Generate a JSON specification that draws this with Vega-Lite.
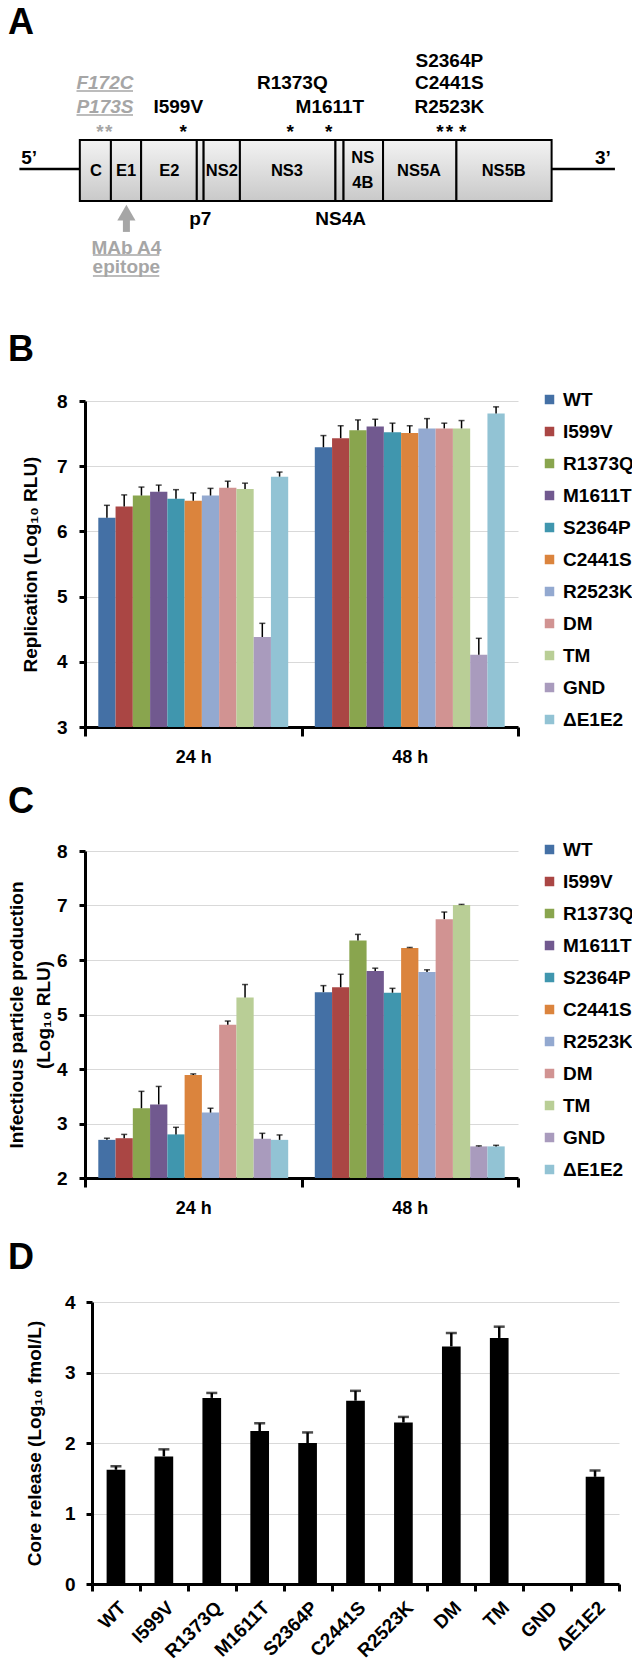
{
"$schema": "https://vega.github.io/schema/vega-lite/v6.json",
"padding": 0,
"background": "white",
"bounds": "flush",
"spacing": 124,
"config": {
  "view": {"stroke": null},
  "font": "Liberation Sans",
  "title": {"font": "Liberation Sans", "fontSize": 36, "fontWeight": "bold", "color": "black", "anchor": "start", "frame": "group", "baseline": "alphabetic", "dx": -77},
  "axis": {"labelFont": "Liberation Sans", "titleFont": "Liberation Sans", "labelFontWeight": "bold", "titleFontWeight": "bold", "labelColor": "black", "titleColor": "black", "labelFontSize": 19, "titleFontSize": 19, "domainColor": "black", "domainWidth": 3, "tickColor": "black", "tickWidth": 3, "gridColor": "#d9d9d9", "gridWidth": 1},
  "legend": {"labelFont": "Liberation Sans", "labelFontWeight": "bold", "labelFontSize": 19, "labelColor": "black", "symbolType": "square", "symbolSize": 90, "symbolStrokeWidth": 0, "rowPadding": 12, "labelOffset": 4, "padding": 0}
},
"resolve": {"scale": {"color": "independent", "x": "independent", "y": "independent"}, "legend": {"color": "independent"}},
"datasets": {
  "utr": [
    {"end_label": "5’", "start": 3.07, "end": 12.63, "labelPos": 4.6},
    {"end_label": "3’", "start": 87.28, "end": 97.3, "labelPos": 95.4}
  ],
  "genes": [
    {"gene": "C", "start": 12.63, "end": 17.55},
    {"gene": "E1", "start": 17.55, "end": 22.33},
    {"gene": "E2", "start": 22.33, "end": 31.14},
    {"gene": "p7", "start": 31.14, "end": 32.22},
    {"gene": "NS2", "start": 32.22, "end": 37.96},
    {"gene": "NS3", "start": 37.96, "end": 53.08},
    {"gene": "NS4A", "start": 53.08, "end": 54.36},
    {"gene": "NS4B", "start": 54.36, "end": 60.61},
    {"gene": "NS5A", "start": 60.61, "end": 72.22},
    {"gene": "NS5B", "start": 72.22, "end": 87.28}
  ],
  "geneNames": [
    {"name": "C", "pos": 15.2, "tier": 5.49, "place": "inside"},
    {"name": "E1", "pos": 19.95, "tier": 5.49, "place": "inside"},
    {"name": "E2", "pos": 26.8, "tier": 5.49, "place": "inside"},
    {"name": "NS2", "pos": 35.1, "tier": 5.49, "place": "inside"},
    {"name": "NS3", "pos": 45.4, "tier": 5.49, "place": "inside"},
    {"name": "NS\n4B", "pos": 57.4, "tier": 4.96, "place": "inside"},
    {"name": "NS5A", "pos": 66.3, "tier": 5.49, "place": "inside"},
    {"name": "NS5B", "pos": 79.7, "tier": 5.49, "place": "inside"},
    {"name": "p7", "pos": 31.7, "tier": 7.54, "place": "below"},
    {"name": "NS4A", "pos": 53.9, "tier": 7.54, "place": "below"}
  ],
  "mutations": [
    {"label": "F172C", "pos": 16.6, "tier": 1.78, "kind": "parental"},
    {"label": "P173S", "pos": 16.6, "tier": 2.8, "kind": "parental"},
    {"label": "I599V", "pos": 28.2, "tier": 2.8, "kind": "adaptive"},
    {"label": "R1373Q", "pos": 46.25, "tier": 1.78, "kind": "adaptive"},
    {"label": "M1611T", "pos": 52.2, "tier": 2.8, "kind": "adaptive"},
    {"label": "S2364P", "pos": 71.1, "tier": 0.85, "kind": "adaptive"},
    {"label": "C2441S", "pos": 71.1, "tier": 1.78, "kind": "adaptive"},
    {"label": "R2523K", "pos": 71.1, "tier": 2.8, "kind": "adaptive"}
  ],
  "sites": [
    {"pos": 15.8, "kind": "parental"},
    {"pos": 17.2, "kind": "parental"},
    {"pos": 29.0, "kind": "adaptive"},
    {"pos": 45.9, "kind": "adaptive"},
    {"pos": 52.0, "kind": "adaptive"},
    {"pos": 69.6, "kind": "adaptive"},
    {"pos": 71.1, "kind": "adaptive"},
    {"pos": 73.2, "kind": "adaptive"}
  ],
  "epitope": [
    {"label": "MAb A4", "pos": 20.0, "tier": 8.77},
    {"label": "epitope", "pos": 20.0, "tier": 9.58}
  ],
  "underlines": [
    {"of": "F172C", "start": 12.1, "end": 21.05, "tier": 2.12},
    {"of": "P173S", "start": 12.1, "end": 21.05, "tier": 3.14},
    {"of": "MAb A4", "start": 14.7, "end": 25.2, "tier": 9.07},
    {"of": "epitope", "start": 14.7, "end": 25.2, "tier": 9.96}
  ],
  "arrow": [{"pos": 20.0, "tail": 8.09, "neck": 7.46, "tip": 7.27}],
  "rep": [
    {"time": "24 h", "sample": "WT", "mean": 6.21, "upper": 6.40},
    {"time": "24 h", "sample": "I599V", "mean": 6.38, "upper": 6.56},
    {"time": "24 h", "sample": "R1373Q", "mean": 6.55, "upper": 6.68},
    {"time": "24 h", "sample": "M1611T", "mean": 6.61, "upper": 6.71},
    {"time": "24 h", "sample": "S2364P", "mean": 6.50, "upper": 6.64},
    {"time": "24 h", "sample": "C2441S", "mean": 6.47, "upper": 6.59},
    {"time": "24 h", "sample": "R2523K", "mean": 6.55, "upper": 6.66},
    {"time": "24 h", "sample": "DM", "mean": 6.67, "upper": 6.77},
    {"time": "24 h", "sample": "TM", "mean": 6.65, "upper": 6.74},
    {"time": "24 h", "sample": "GND", "mean": 4.38, "upper": 4.59},
    {"time": "24 h", "sample": "ΔE1E2", "mean": 6.84, "upper": 6.91},
    {"time": "48 h", "sample": "WT", "mean": 7.29, "upper": 7.47},
    {"time": "48 h", "sample": "I599V", "mean": 7.43, "upper": 7.62},
    {"time": "48 h", "sample": "R1373Q", "mean": 7.55, "upper": 7.71},
    {"time": "48 h", "sample": "M1611T", "mean": 7.61, "upper": 7.72},
    {"time": "48 h", "sample": "S2364P", "mean": 7.52, "upper": 7.66},
    {"time": "48 h", "sample": "C2441S", "mean": 7.51, "upper": 7.62},
    {"time": "48 h", "sample": "R2523K", "mean": 7.58, "upper": 7.73},
    {"time": "48 h", "sample": "DM", "mean": 7.58, "upper": 7.66},
    {"time": "48 h", "sample": "TM", "mean": 7.58, "upper": 7.70},
    {"time": "48 h", "sample": "GND", "mean": 4.11, "upper": 4.36},
    {"time": "48 h", "sample": "ΔE1E2", "mean": 7.81, "upper": 7.91}
  ],
  "inf": [
    {"time": "24 h", "sample": "WT", "mean": 2.70, "upper": 2.73},
    {"time": "24 h", "sample": "I599V", "mean": 2.73, "upper": 2.80},
    {"time": "24 h", "sample": "R1373Q", "mean": 3.28, "upper": 3.59},
    {"time": "24 h", "sample": "M1611T", "mean": 3.35, "upper": 3.68},
    {"time": "24 h", "sample": "S2364P", "mean": 2.80, "upper": 2.93},
    {"time": "24 h", "sample": "C2441S", "mean": 3.89, "upper": 3.91},
    {"time": "24 h", "sample": "R2523K", "mean": 3.20, "upper": 3.28},
    {"time": "24 h", "sample": "DM", "mean": 4.81, "upper": 4.88},
    {"time": "24 h", "sample": "TM", "mean": 5.31, "upper": 5.55},
    {"time": "24 h", "sample": "GND", "mean": 2.72, "upper": 2.82},
    {"time": "24 h", "sample": "ΔE1E2", "mean": 2.70, "upper": 2.79},
    {"time": "48 h", "sample": "WT", "mean": 5.41, "upper": 5.53},
    {"time": "48 h", "sample": "I599V", "mean": 5.50, "upper": 5.74},
    {"time": "48 h", "sample": "R1373Q", "mean": 6.36, "upper": 6.47},
    {"time": "48 h", "sample": "M1611T", "mean": 5.80, "upper": 5.85},
    {"time": "48 h", "sample": "S2364P", "mean": 5.40, "upper": 5.48},
    {"time": "48 h", "sample": "C2441S", "mean": 6.22, "upper": 6.23},
    {"time": "48 h", "sample": "R2523K", "mean": 5.78, "upper": 5.82},
    {"time": "48 h", "sample": "DM", "mean": 6.75, "upper": 6.88},
    {"time": "48 h", "sample": "TM", "mean": 7.01, "upper": 7.02},
    {"time": "48 h", "sample": "GND", "mean": 2.58, "upper": 2.59},
    {"time": "48 h", "sample": "ΔE1E2", "mean": 2.58, "upper": 2.60}
  ],
  "core": [
    {"sample": "WT", "mean": 1.62, "upper": 1.67},
    {"sample": "I599V", "mean": 1.81, "upper": 1.91},
    {"sample": "R1373Q", "mean": 2.64, "upper": 2.71},
    {"sample": "M1611T", "mean": 2.17, "upper": 2.28},
    {"sample": "S2364P", "mean": 2.00, "upper": 2.15},
    {"sample": "C2441S", "mean": 2.60, "upper": 2.74},
    {"sample": "R2523K", "mean": 2.29, "upper": 2.37},
    {"sample": "DM", "mean": 3.37, "upper": 3.56},
    {"sample": "TM", "mean": 3.49, "upper": 3.65},
    {"sample": "GND", "mean": 0, "upper": null},
    {"sample": "ΔE1E2", "mean": 1.52, "upper": 1.61}
  ]
},
"vconcat": [
  {
    "width": 547, "height": 236,
    "title": {"text": "A", "offset": -41},
    "layer": [
      {"data": {"values": [{"frame": "figure"}]}, "mark": {"type": "rect", "opacity": 0},
       "encoding": {
         "x": {"datum": 0, "type": "quantitative", "scale": {"domain": [13.449, 100], "nice": false, "zero": false}, "axis": null},
         "x2": {"datum": 100},
         "y": {"datum": -1.695, "type": "quantitative", "scale": {"domain": [0, 10], "reverse": true, "nice": false, "zero": false}, "axis": null},
         "y2": {"datum": 0}}},
      {"data": {"name": "utr"}, "mark": {"type": "rule", "strokeWidth": 2.5, "color": "black"},
       "encoding": {"x": {"field": "start", "type": "quantitative"}, "x2": {"field": "end"}, "y": {"datum": 5.42, "type": "quantitative"}}},
      {"data": {"name": "utr"}, "mark": {"type": "text", "fontSize": 19, "fontWeight": "bold", "baseline": "middle", "color": "black"},
       "encoding": {"x": {"field": "labelPos", "type": "quantitative"}, "y": {"datum": 4.96, "type": "quantitative"}, "text": {"field": "end_label"}}},
      {"data": {"name": "genes"}, "mark": {"type": "rect", "stroke": "black", "strokeWidth": 2,
         "fill": {"gradient": "linear", "x1": 0, "y1": 0, "x2": 0, "y2": 1, "stops": [{"offset": 0, "color": "#f3f3f3"}, {"offset": 1, "color": "#c9c9c9"}]}},
       "encoding": {"x": {"field": "start", "type": "quantitative"}, "x2": {"field": "end"}, "y": {"datum": 4.19, "type": "quantitative"}, "y2": {"datum": 6.78}}},
      {"data": {"name": "geneNames"}, "transform": [{"filter": "datum.place == 'inside'"}],
       "mark": {"type": "text", "fontSize": 16.5, "fontWeight": "bold", "baseline": "middle", "lineBreak": "\n", "lineHeight": 25, "color": "black"},
       "encoding": {"x": {"field": "pos", "type": "quantitative"}, "y": {"field": "tier", "type": "quantitative"}, "text": {"field": "name"}}},
      {"data": {"name": "geneNames"}, "transform": [{"filter": "datum.place == 'below'"}],
       "mark": {"type": "text", "fontSize": 19, "fontWeight": "bold", "baseline": "middle", "color": "black"},
       "encoding": {"x": {"field": "pos", "type": "quantitative"}, "y": {"field": "tier", "type": "quantitative"}, "text": {"field": "name"}}},
      {"data": {"name": "mutations"}, "transform": [{"filter": "datum.kind == 'adaptive'"}],
       "mark": {"type": "text", "fontSize": 19, "fontWeight": "bold", "baseline": "middle", "color": "black"},
       "encoding": {"x": {"field": "pos", "type": "quantitative"}, "y": {"field": "tier", "type": "quantitative"}, "text": {"field": "label"}}},
      {"data": {"name": "mutations"}, "transform": [{"filter": "datum.kind == 'parental'"}],
       "mark": {"type": "text", "fontSize": 19, "fontWeight": "bold", "fontStyle": "italic", "baseline": "middle", "color": "#a6a6a6"},
       "encoding": {"x": {"field": "pos", "type": "quantitative"}, "y": {"field": "tier", "type": "quantitative"}, "text": {"field": "label"}}},
      {"data": {"name": "epitope"},
       "mark": {"type": "text", "fontSize": 19, "fontWeight": "bold", "baseline": "middle", "color": "#a6a6a6"},
       "encoding": {"x": {"field": "pos", "type": "quantitative"}, "y": {"field": "tier", "type": "quantitative"}, "text": {"field": "label"}}},
      {"data": {"name": "underlines"}, "mark": {"type": "rule", "strokeWidth": 1.5, "color": "#a6a6a6"},
       "encoding": {"x": {"field": "start", "type": "quantitative"}, "x2": {"field": "end"}, "y": {"field": "tier", "type": "quantitative"}}},
      {"data": {"name": "sites"}, "mark": {"type": "text", "text": "*", "fontSize": 19, "fontWeight": "bold", "baseline": "alphabetic"},
       "encoding": {"x": {"field": "pos", "type": "quantitative"}, "y": {"datum": 4.12, "type": "quantitative"},
         "color": {"field": "kind", "type": "nominal", "scale": {"domain": ["parental", "adaptive"], "range": ["#a6a6a6", "black"]}, "legend": null}}},
      {"data": {"name": "arrow"}, "mark": {"type": "rule", "strokeWidth": 7, "color": "#a6a6a6"},
       "encoding": {"x": {"field": "pos", "type": "quantitative"}, "y": {"field": "tail", "type": "quantitative"}, "y2": {"field": "neck"}}},
      {"data": {"name": "arrow"}, "mark": {"type": "point", "shape": "triangle-up", "filled": true, "size": 330, "color": "#a6a6a6", "opacity": 1},
       "encoding": {"x": {"field": "pos", "type": "quantitative"}, "y": {"field": "tip", "type": "quantitative"}}}
    ]
  },
  {
    "width": 433, "height": 326,
    "title": {"text": "B", "offset": 21},
    "data": {"name": "rep"},
    "layer": [
      {"mark": {"type": "bar"},
       "encoding": {
         "x": {"field": "time", "type": "nominal", "scale": {"paddingInner": 0, "paddingOuter": 0},
               "axis": {"title": null, "labelAngle": 0, "tickBand": "extent", "tickSize": 9, "labelPadding": 12, "labelFontSize": 18}},
         "xOffset": {"field": "sample", "type": "nominal", "sort": ["WT","I599V","R1373Q","M1611T","S2364P","C2441S","R2523K","DM","TM","GND","ΔE1E2"], "scale": {"paddingOuter": 0.77, "paddingInner": 0}},
         "y": {"field": "mean", "type": "quantitative", "scale": {"domain": [3, 8], "zero": false, "nice": false},
               "axis": {"values": [3,4,5,6,7,8], "format": "d", "grid": true, "tickSize": 6, "labelPadding": 12, "title": "Replication (Log₁₀ RLU)", "titleX": -64, "titleBaseline": "top"}},
         "y2": {"datum": 3},
         "color": {"field": "sample", "type": "nominal", "sort": ["WT","I599V","R1373Q","M1611T","S2364P","C2441S","R2523K","DM","TM","GND","ΔE1E2"],
               "scale": {"domain": ["WT","I599V","R1373Q","M1611T","S2364P","C2441S","R2523K","DM","TM","GND","ΔE1E2"], "range": ["#4470A5","#AA4644","#89A54E","#71598F","#4096AE","#DB843D","#93A9D0","#D19392","#B9CE96","#A99BBD","#92C3D4"]},
               "legend": {"title": null, "orient": "none", "legendX": 455, "legendY": -11}}}},
      {"mark": {"type": "rule", "color": "black", "strokeWidth": 1.5},
       "encoding": {"x": {"field": "time", "type": "nominal"}, "xOffset": {"field": "sample", "type": "nominal", "sort": ["WT","I599V","R1373Q","M1611T","S2364P","C2441S","R2523K","DM","TM","GND","ΔE1E2"]},
         "y": {"field": "mean", "type": "quantitative"}, "y2": {"field": "upper"}}},
      {"mark": {"type": "tick", "color": "black", "thickness": 1.5, "size": 6},
       "encoding": {"x": {"field": "time", "type": "nominal"}, "xOffset": {"field": "sample", "type": "nominal", "sort": ["WT","I599V","R1373Q","M1611T","S2364P","C2441S","R2523K","DM","TM","GND","ΔE1E2"]},
         "y": {"field": "upper", "type": "quantitative"}}}
    ]
  },
  {
    "width": 433, "height": 327,
    "title": {"text": "C", "offset": 19.5},
    "data": {"name": "inf"},
    "layer": [
      {"mark": {"type": "bar"},
       "encoding": {
         "x": {"field": "time", "type": "nominal", "scale": {"paddingInner": 0, "paddingOuter": 0},
               "axis": {"title": null, "labelAngle": 0, "tickBand": "extent", "tickSize": 9, "labelPadding": 12, "labelFontSize": 18}},
         "xOffset": {"field": "sample", "type": "nominal", "sort": ["WT","I599V","R1373Q","M1611T","S2364P","C2441S","R2523K","DM","TM","GND","ΔE1E2"], "scale": {"paddingOuter": 0.77, "paddingInner": 0}},
         "y": {"field": "mean", "type": "quantitative", "scale": {"domain": [2, 8], "zero": false, "nice": false},
               "axis": {"values": [2,3,4,5,6,7,8], "format": "d", "grid": true, "tickSize": 6, "labelPadding": 12, "title": ["Infectious particle production", "(Log₁₀ RLU)"], "titleLineHeight": 27, "titleX": -78, "titleBaseline": "top"}},
         "y2": {"datum": 2},
         "color": {"field": "sample", "type": "nominal", "sort": ["WT","I599V","R1373Q","M1611T","S2364P","C2441S","R2523K","DM","TM","GND","ΔE1E2"],
               "scale": {"domain": ["WT","I599V","R1373Q","M1611T","S2364P","C2441S","R2523K","DM","TM","GND","ΔE1E2"], "range": ["#4470A5","#AA4644","#89A54E","#71598F","#4096AE","#DB843D","#93A9D0","#D19392","#B9CE96","#A99BBD","#92C3D4"]},
               "legend": {"title": null, "orient": "none", "legendX": 455, "legendY": -11}}}},
      {"mark": {"type": "rule", "color": "black", "strokeWidth": 1.5},
       "encoding": {"x": {"field": "time", "type": "nominal"}, "xOffset": {"field": "sample", "type": "nominal", "sort": ["WT","I599V","R1373Q","M1611T","S2364P","C2441S","R2523K","DM","TM","GND","ΔE1E2"]},
         "y": {"field": "mean", "type": "quantitative"}, "y2": {"field": "upper"}}},
      {"mark": {"type": "tick", "color": "black", "thickness": 1.5, "size": 6},
       "encoding": {"x": {"field": "time", "type": "nominal"}, "xOffset": {"field": "sample", "type": "nominal", "sort": ["WT","I599V","R1373Q","M1611T","S2364P","C2441S","R2523K","DM","TM","GND","ΔE1E2"]},
         "y": {"field": "upper", "type": "quantitative"}}}
    ]
  },
  {
    "width": 534, "height": 282,
    "title": {"text": "D", "offset": 16.5},
    "data": {"name": "core"},
    "layer": [
      {"mark": {"type": "bar", "color": "black", "width": {"band": 0.39}},
       "encoding": {
         "x": {"field": "sample", "type": "nominal", "sort": ["WT","I599V","R1373Q","M1611T","S2364P","C2441S","R2523K","DM","TM","GND","ΔE1E2"],
               "scale": {"range": [7, 534], "paddingInner": 0, "paddingOuter": 0},
               "axis": {"title": null, "labelAngle": -45, "labelAlign": "right", "labelBaseline": "top", "tickBand": "extent", "tickSize": 7, "labelPadding": 7, "labelFontSize": 19}},
         "y": {"field": "mean", "type": "quantitative", "scale": {"domain": [0, 4], "nice": false},
               "axis": {"values": [0,1,2,3,4], "format": "d", "grid": true, "tickSize": 6, "labelPadding": 11, "offset": -7, "title": "Core release (Log₁₀ fmol/L)", "titleX": -67, "titleBaseline": "top"}}}},
      {"transform": [{"filter": "datum.upper != null"}],
       "mark": {"type": "rule", "color": "black", "strokeWidth": 2.5},
       "encoding": {"x": {"field": "sample", "type": "nominal", "sort": ["WT","I599V","R1373Q","M1611T","S2364P","C2441S","R2523K","DM","TM","GND","ΔE1E2"]},
         "y": {"field": "mean", "type": "quantitative"}, "y2": {"field": "upper"}}},
      {"transform": [{"filter": "datum.upper != null"}],
       "mark": {"type": "tick", "color": "black", "thickness": 2.5, "size": 11},
       "encoding": {"x": {"field": "sample", "type": "nominal", "sort": ["WT","I599V","R1373Q","M1611T","S2364P","C2441S","R2523K","DM","TM","GND","ΔE1E2"]},
         "y": {"field": "upper", "type": "quantitative"}}}
    ]
  }
]
}
